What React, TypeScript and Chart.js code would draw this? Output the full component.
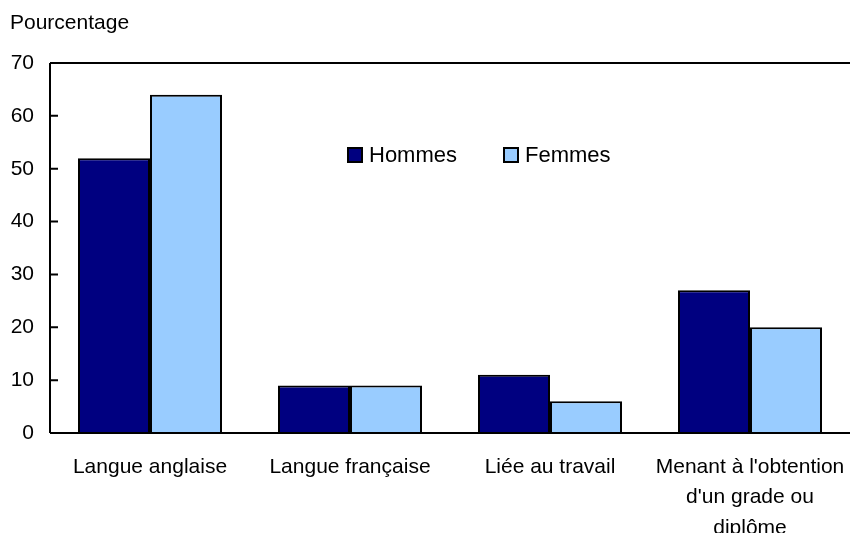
import React, { useEffect, useRef } from "react";
import { Chart, registerables } from "chart.js";

Chart.register(...registerables);

const categories: (string | string[])[] = [
  "Langue anglaise",
  "Langue française",
  "Liée au travail",
  ["Menant à l'obtention", "d'un grade ou", "diplôme"],
];
const hommes = [52, 9, 11, 27];
const femmes = [64, 9, 6, 20];
const yTicks = [0, 10, 20, 30, 40, 50, 60, 70];
const yTitle = "Pourcentage";
const seriesNames = ["Hommes", "Femmes"];
const colors = ["#000080", "#99CCFF"];
const FONT = "'Liberation Sans', Arial, sans-serif";

const decor = {
  id: "decor",
  afterDraw(chart: any) {
    const ctx = chart.ctx;
    const { left, right, top, bottom } = chart.chartArea;
    const y = chart.scales.y;
    ctx.save();
    ctx.strokeStyle = "#000";
    ctx.lineWidth = 2;
    ctx.beginPath();
    ctx.moveTo(left, top);
    ctx.lineTo(right, top);
    ctx.moveTo(left, top);
    ctx.lineTo(left, bottom);
    ctx.moveTo(left, bottom);
    ctx.lineTo(right, bottom);
    for (const v of yTicks) {
      const py = y.getPixelForValue(v);
      ctx.moveTo(left, py);
      ctx.lineTo(left + 8, py);
    }
    ctx.stroke();
    // title
    ctx.fillStyle = "#000";
    ctx.font = `21px ${FONT}`;
    ctx.textAlign = "left";
    ctx.textBaseline = "middle";
    ctx.fillText(yTitle, 10, 23);
    // legend
    const items = [
      { x: 348, tx: 369, name: seriesNames[0], c: colors[0] },
      { x: 504, tx: 525, name: seriesNames[1], c: colors[1] },
    ];
    const ly = 155;
    ctx.font = `22px ${FONT}`;
    for (const it of items) {
      ctx.fillStyle = it.c;
      ctx.fillRect(it.x, ly - 7, 14, 14);
      ctx.lineWidth = 2;
      ctx.strokeRect(it.x, ly - 7, 14, 14);
      ctx.fillStyle = "#000";
      ctx.fillText(it.name, it.tx, ly + 1);
    }
    ctx.restore();
  },
};

export default function App() {
  const ref = useRef<HTMLCanvasElement>(null);
  useEffect(() => {
    const chart = new Chart(ref.current!, {
      type: "bar",
      data: {
        labels: categories,
        datasets: [
          {
            label: seriesNames[0],
            data: hommes,
            backgroundColor: colors[0],
            borderColor: "#000",
            borderWidth: 2,
          },
          {
            label: seriesNames[1],
            data: femmes,
            backgroundColor: colors[1],
            borderColor: "#000",
            borderWidth: 2,
          },
        ],
      },
      options: {
        responsive: false,
        animation: false,
        layout: { padding: { top: 63, right: 0, left: 0, bottom: 0 } },
        plugins: { legend: { display: false }, tooltip: { enabled: false } },
        datasets: { bar: { categoryPercentage: 0.72, barPercentage: 1 } },
        scales: {
          x: {
            grid: { display: false, drawTicks: false },
            border: { display: false },
            ticks: {
              color: "#000",
              font: { family: FONT, size: 21, lineHeight: 1.45 },
              padding: 19,
              maxRotation: 0,
              autoSkip: false,
            },
            afterFit(scale: any) {
              scale.height = 100;
              scale.paddingRight = 0;
              scale.paddingLeft = 0;
            },
          },
          y: {
            min: 0,
            max: 70,
            grid: { display: false, drawTicks: false },
            border: { display: false },
            ticks: {
              stepSize: 10,
              color: "#000",
              font: { family: FONT, size: 21 },
              padding: 16,
            },
            afterFit(scale: any) {
              scale.width = 50;
              scale.paddingTop = 0;
              scale.paddingBottom = 0;
            },
          },
        },
      },
      plugins: [decor],
    });
    return () => chart.destroy();
  }, []);
  return (
    <div style={{ position: "fixed", left: 0, top: 0, width: 850, height: 533, background: "#fff" }}>
      <canvas ref={ref} width={850} height={533} />
    </div>
  );
}
